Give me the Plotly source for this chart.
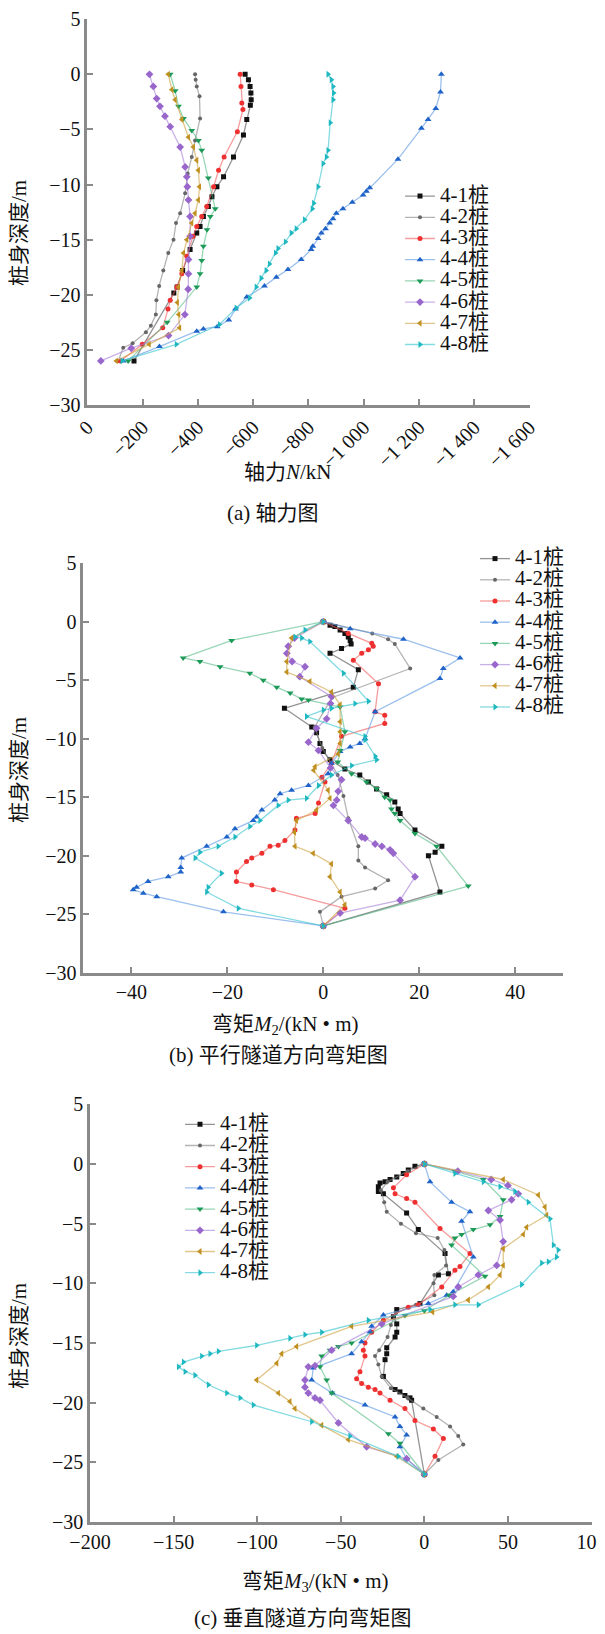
import plotly.graph_objects as go

# page pixel size and the default 8px body margin of the written html page
PAGE_W, PAGE_H = 605, 1634
OFF = 8
W, H = PAGE_W - OFF, PAGE_H - OFF

piles = ["4-1桩", "4-2桩", "4-3桩", "4-4桩", "4-5桩", "4-6桩", "4-7桩", "4-8桩"]

# ---------------- (a) axial force N (kN) vs depth (m) ----------------
a41_d = [0, -0.5, -1.1, -1.7, -2.3, -2.8, -4.1, -5.5, -7.5, -9.3, -10.2, -11.1, -12.0, -12.9, -13.8, -14.4, -15.9, -17.8, -19.3, -19.85, -26.0]
a41_n = [-571, -583, -589, -592, -593, -590, -577, -565, -529, -493, -469, -451, -438, -420, -408, -396, -372, -345, -325, -313, -169]
a42_d = [0, -0.5, -1.1, -2.0, -4.0, -6.0, -7.5, -9.0, -10.8, -12.6, -13.5, -15.0, -16.2, -17.8, -19.2, -20.5, -21.8, -22.8, -23.4, -24.4, -24.8, -26.0]
a42_n = [-390, -392, -396, -406, -408, -390, -378, -363, -354, -336, -321, -312, -293, -275, -260, -250, -248, -230, -212, -164, -130, -112]
a43_d = [0, -1.1, -2.6, -3.2, -5.2, -7.5, -8.7, -10.2, -12.0, -12.9, -13.8, -14.7, -16.5, -18.1, -19.3, -20.5, -21.3, -23.0, -24.5, -26.0]
a43_n = [-553, -556, -559, -563, -543, -495, -475, -457, -432, -414, -396, -382, -360, -342, -324, -300, -292, -273, -199, -120]
a44_d = [0, -1.6, -3.1, -4.1, -4.9, -7.7, -10.3, -10.6, -10.95, -11.6, -12.2, -12.6, -13.1, -13.5, -14.0, -14.4, -14.9, -15.6, -15.9, -16.8, -17.7, -18.4, -19.2, -20.2, -21.3, -22.3, -22.9, -23.1, -23.3, -24.7, -26.0]
a44_n = [-1281, -1278, -1261, -1233, -1209, -1124, -1022, -1010, -998, -959, -925, -901, -889, -877, -862, -847, -835, -816, -810, -774, -726, -684, -641, -577, -536, -512, -470, -420, -396, -261, -130]
a45_d = [0, -1.5, -2.9, -4.0, -5.1, -6.0, -6.9, -9.4, -12.2, -12.9, -14.1, -15.6, -16.9, -18.1, -19.3, -22.5, -26.0]
a45_n = [-300, -318, -330, -348, -378, -402, -414, -438, -463, -445, -433, -420, -414, -408, -396, -289, -148]
a46_d = [0, -1.1, -2.2, -2.9, -3.8, -4.75, -6.6, -8.4, -9.3, -10.2, -11.4, -12.9, -14.7, -16.8, -18.1, -19.5, -21.8, -23.7, -24.85, -26.0]
a46_n = [-225, -239, -251, -263, -281, -300, -336, -354, -360, -362, -366, -372, -372, -366, -366, -365, -353, -294, -159, -49]
a47_d = [0, -1.4, -2.3, -4.1, -5.7, -6.6, -7.8, -8.7, -10.2, -11.4, -12.6, -13.5, -15.0, -16.2, -17.8, -19.3, -20.7, -21.8, -23.0, -24.5, -26.0]
a47_n = [-293, -306, -318, -342, -366, -384, -396, -402, -406, -402, -390, -378, -360, -348, -342, -330, -326, -331, -334, -224, -105]
a48_d = [0, -0.5, -1.1, -1.7, -2.3, -4.4, -6.9, -7.5, -8.1, -10.2, -11.7, -12.2, -13.2, -14.0, -14.4, -15.2, -15.8, -16.2, -17.2, -17.8, -18.5, -19.3, -20.3, -21.2, -22.7, -24.5, -26.0]
a48_n = [-871, -883, -889, -891, -889, -879, -871, -865, -853, -835, -819, -814, -786, -756, -738, -717, -690, -681, -659, -647, -629, -611, -587, -539, -478, -322, -126]

# ---------------- (b) bending moment M2 (kN·m) vs depth ----------------
b41_d = [0, -0.3, -0.4, -0.7, -1.0, -1.3, -1.6, -1.9, -2.3, -2.7, -4.1, -5.6, -7.4, -9.0, -9.5, -10.4, -11.1, -11.8, -12.6, -13.1, -13.7, -14.3, -14.8, -15.4, -16.0, -16.4, -17.8, -19.2, -19.7, -20.0, -23.1, -26.0]
b41_m = [0, 1.4, 2.4, 3.5, 4.5, 5.2, 5.6, 5.8, 3.8, 1.4, 7.3, 6.25, -8.1, -2.4, -1.4, -0.7, 0, 1.4, 4.5, 7.6, 9.4, 11.1, 13.2, 14.9, 15.6, 16.0, 19.1, 24.7, 23.3, 21.9, 24.3, 0]
b42_d = [0, -1.0, -1.5, -1.9, -4.0, -6.5, -9.0, -10.8, -13.1, -14.9, -16.8, -19.2, -20.4, -21.0, -22.1, -22.8, -23.5, -24.8, -26.0]
b42_m = [0, 10.2, 13.5, 14.9, 18.1, 1.8, -1.8, -0.2, 3.0, 4.2, 5.2, 7.3, 7.3, 8.7, 13.5, 10.8, 3.8, -0.7, 0]
b43_d = [0, -1.0, -1.85, -2.1, -2.4, -2.7, -3.3, -5.3, -7.7, -8.0, -8.7, -9.8, -12.1, -13.3, -13.7, -15.5, -16.4, -16.8, -17.8, -18.7, -19.1, -19.2, -19.8, -20.2, -20.5, -21.4, -22.2, -22.5, -22.9, -24.5, -26.0]
b43_m = [0, 5.2, 10.1, 10.4, 9.4, 8.0, 6.25, 11.5, 10.8, 12.8, 12.8, 3.8, 1.7, -0.3, 0.35, -1.0, -1.7, -5.6, -5.9, -8.0, -9.4, -11.1, -12.8, -14.9, -16.0, -18.1, -18.1, -14.9, -10.4, 4.5, 0]
b44_d = [0, -0.6, -1.5, -3.1, -4.0, -4.85, -7.7, -10.0, -10.4, -10.7, -11.1, -12.1, -13.0, -14.0, -14.4, -14.7, -15.25, -16.1, -16.7, -17.0, -17.7, -18.4, -19.2, -20.2, -21.0, -21.4, -21.8, -22.2, -22.7, -22.9, -23.2, -23.5, -24.8, -26.0]
b44_m = [0, 5.6, 16.7, 28.5, 25.0, 24.3, 10.8, 8.7, 7.6, 5.6, 3.5, 1.7, 1.0, -3.1, -6.6, -9.0, -10.1, -12.8, -13.9, -14.6, -18.4, -20.1, -24.3, -29.5, -29.7, -29.7, -32.3, -36.5, -38.9, -39.6, -37.5, -34.7, -20.8, 0]
b45_d = [0, -1.6, -3.1, -3.4, -3.85, -4.4, -5.0, -5.6, -6.1, -6.6, -6.7, -7.3, -9.4, -11.0, -12.0, -13.0, -13.7, -14.25, -15.0, -15.25, -16.0, -16.4, -17.0, -18.1, -19.2, -22.6, -26.0]
b45_m = [0, -19.1, -29.2, -25.7, -21.5, -15.3, -12.5, -9.7, -6.9, -4.5, -3.1, 3.5, 4.5, 3.5, 3.0, 5.9, 9.0, 11.1, 12.8, 13.9, 14.2, 14.9, 16.0, 19.1, 23.6, 30.2, 0]
b46_d = [0, -1.4, -2.1, -2.7, -3.4, -3.85, -4.7, -6.4, -7.0, -8.3, -9.1, -10.3, -11.0, -12.5, -13.5, -14.5, -15.25, -15.7, -17.0, -18.4, -18.5, -19.0, -19.2, -19.5, -19.8, -21.8, -23.8, -24.9, -26.0]
b46_m = [0, -6.0, -7.3, -7.6, -6.5, -3.8, -4.9, 1.7, 1.5, 0.7, -1.4, -3.1, -1.0, 1.5, 3.8, 3.1, 2.8, 2.1, 5.2, 8.0, 8.7, 10.8, 12.2, 13.9, 14.6, 19.1, 16.0, 3.5, 0]
b47_d = [0, -1.4, -3.4, -4.3, -5.1, -6.0, -7.1, -8.55, -9.4, -10.4, -11.3, -12.4, -12.7, -14.4, -15.1, -16.1, -17.0, -18.0, -19.2, -19.8, -20.7, -21.8, -23.1, -24.2, -26.0]
b47_m = [0, -6.6, -7.6, -7.6, -2.8, 1.7, 3.5, 3.5, 3.5, 3.5, 3.1, -1.7, -2.0, 1.0, 1.4, -1.4, -5.6, -6.0, -5.9, -2.1, 1.7, 1.4, 3.5, 4.5, 0]
b48_d = [0, -0.7, -1.3, -1.4, -1.7, -4.4, -6.8, -7.0, -7.4, -7.55, -8.1, -9.8, -10.1, -11.5, -11.8, -12.3, -13.1, -14.0, -15.1, -15.25, -15.7, -17.0, -17.5, -18.4, -19.2, -19.7, -20.2, -21.5, -22.7, -23.1, -24.5, -26.0]
b48_m = [0, -3.8, -5.9, -4.5, -2.8, 4.2, 9.4, 6.6, 1.7, 0, -3.5, 8.7, 8.7, 10.8, 11.1, 5.9, 1.7, -1.0, -3.5, -7.3, -9.4, -13.2, -15.3, -18.4, -21.9, -25.7, -26.7, -21.2, -24.0, -24.3, -17.7, 0]

# ---------------- (c) bending moment M3 (kN·m) vs depth ----------------
c41_d = [0, -0.2, -0.5, -0.8, -1.1, -1.3, -1.5, -1.6, -1.9, -2.3, -2.5, -4.1, -5.5, -7.5, -9.2, -9.3, -11.7, -12.2, -12.8, -13.4, -14.1, -14.5, -15.4, -15.9, -16.4, -17.8, -18.9, -19.1, -19.4, -19.6, -19.8, -26.0]
c41_m = [0, -5.6, -9.6, -12.6, -16.5, -20.5, -23.5, -26.5, -27.5, -27.5, -24.5, -10.6, -3.6, 12.4, 14.4, 8.4, -2.6, -16.5, -18.5, -16.5, -16.5, -17.5, -22.5, -22.5, -23.5, -24.5, -17.5, -14.6, -11.6, -8.6, -7.6, 0]
c42_d = [0, -0.6, -1.5, -2.2, -3.2, -4.0, -5.0, -5.8, -6.2, -7.2, -8.5, -9.3, -10.0, -11.0, -11.8, -12.5, -13.5, -14.5, -15.6, -16.1, -16.8, -17.8, -18.8, -19.6, -20.5, -21.2, -22.0, -22.8, -23.5, -24.8, -26.0]
c42_m = [0, -10, -22, -26, -24, -22.5, -14, -5, 8, 12, 13, 6, 5.5, 6, -5, -17, -20, -22, -27, -29.5, -27.5, -25.5, -20, -10, -0.6, 7.4, 15.4, 20.3, 23.3, 8.4, 0]
c43_d = [0, -0.9, -2.0, -2.5, -2.9, -3.2, -5.4, -7.5, -8.6, -8.9, -10.3, -11.8, -12.0, -13.1, -14.1, -15.0, -15.6, -16.1, -17.4, -18.0, -18.4, -18.7, -18.9, -19.2, -19.8, -20.5, -21.5, -22.2, -23.0, -24.5, -26.0]
c43_m = [0, -10.6, -18.5, -17.5, -10.6, -5.6, 9.4, 27.3, 21.3, 18.3, 10.4, -3.6, -9.6, -24.5, -31.5, -35.5, -36.5, -35.5, -38.5, -40.5, -37.5, -33.5, -29.5, -26.5, -20.5, -11.6, -5.6, 5.4, 11.4, 6.4, 0]
c44_d = [0, -1.5, -3.2, -4.0, -4.8, -7.8, -10.7, -11.0, -11.7, -12.65, -13.6, -14.05, -14.9, -15.9, -17.1, -18.1, -19.2, -20.2, -21.2, -22.0, -22.7, -23.7, -24.7, -26.0]
c44_m = [0, 3.4, 16.3, 27.3, 22.3, 29.3, 17.3, 13.4, 2.4, -24.5, -31.5, -32.5, -37.5, -43.5, -66.4, -67.4, -55.0, -35.5, -17.5, -14.6, -10.6, -14.6, -10.6, 0]
c45_d = [0, -0.6, -1.3, -3.0, -4.4, -5.1, -5.5, -5.9, -6.2, -6.8, -9.4, -11.0, -12.3, -12.7, -15.0, -15.3, -15.6, -16.1, -17.0, -18.1, -19.2, -22.6, -23.4, -26.0]
c45_m = [0, 18.3, 35.3, 47.2, 45.3, 39.3, 29.3, 22.3, 18.3, 16.3, 36.3, 15.0, 0.0, -11.6, -43.5, -51.4, -56.4, -61.4, -62.4, -58.4, -55.4, -21.5, -14.6, 0]
c46_d = [0, -0.6, -1.3, -1.8, -2.5, -3.0, -3.9, -4.7, -6.5, -8.5, -9.3, -10.3, -11.1, -13.4, -15.6, -16.9, -17.0, -18.1, -18.7, -19.2, -19.6, -19.8, -21.7, -23.7, -24.7, -26.0]
c46_m = [0, 20, 40, 50, 56.2, 52.2, 38.3, 45.3, 47.2, 43.3, 32.3, 20.3, 17.3, -25.5, -55.4, -65.4, -69.4, -71.4, -71.4, -69.4, -65.4, -62.4, -51.4, -34.5, -10.6, 0]
c47_d = [0, -1.3, -2.6, -3.6, -4.3, -5.3, -5.9, -7.1, -8.5, -9.3, -10.3, -11.4, -12.4, -13.6, -15.3, -15.9, -16.7, -18.1, -19.2, -19.9, -20.5, -21.9, -23.1, -24.5, -26.0]
c47_m = [0, 47.2, 68.2, 72.2, 73.2, 61.2, 59.2, 47.2, 47.2, 45.3, 38.3, 26.3, 5.0, -43.5, -76.4, -85.3, -88.3, -100.3, -87.3, -80.4, -77.4, -61.4, -45.5, -16.5, 0]
c48_d = [0, -0.8, -1.5, -1.9, -2.3, -3.2, -4.6, -6.8, -7.2, -7.8, -8.2, -8.3, -10.1, -11.8, -11.8, -12.2, -13.1, -14.1, -14.3, -14.6, -15.2, -15.7, -15.9, -16.1, -16.6, -17.0, -17.4, -17.7, -18.5, -19.2, -19.6, -20.2, -21.6, -22.8, -24.5, -26.0]
c48_m = [0, 18.3, 35.3, 45.3, 54.2, 62.2, 75.2, 77.2, 80.1, 79.1, 74.2, 70.2, 58.2, 32.3, 18.3, 3.4, -33.5, -61.4, -71.4, -80.4, -100.3, -123.2, -128.2, -133.2, -144.1, -147.1, -143.1, -137.2, -129.2, -118.2, -110.2, -102.3, -67.4, -44.5, -15.6, 0]

# tick labels
y_ticks = [5, 0, -5, -10, -15, -20, -25, -30]
y_ticktext = ["5", "0", "−5", "−10", "−15", "−20", "−25", "−30"]
a_xticks = [0, -200, -400, -600, -800, -1000, -1200, -1400, -1600]
a_xticktext = ["0", "−200", "−400", "−600", "−800", "−1 000", "−1 200", "−1 400", "−1 600"]
b_xticks = [-40, -20, 0, 20, 40]
b_xticktext = ["−40", "−20", "0", "20", "40"]
c_xticks = [-200, -150, -100, -50, 0, 50, 100]
c_xticktext = ["−200", "−150", "−100", "−50", "0", "50", "100"]

panel_a = [(a41_n, a41_d), (a42_n, a42_d), (a43_n, a43_d), (a44_n, a44_d),
           (a45_n, a45_d), (a46_n, a46_d), (a47_n, a47_d), (a48_n, a48_d)]
panel_b = [(b41_m, b41_d), (b42_m, b42_d), (b43_m, b43_d), (b44_m, b44_d),
           (b45_m, b45_d), (b46_m, b46_d), (b47_m, b47_d), (b48_m, b48_d)]
panel_c = [(c41_m, c41_d), (c42_m, c42_d), (c43_m, c43_d), (c44_m, c44_d),
           (c45_m, c45_d), (c46_m, c46_d), (c47_m, c47_d), (c48_m, c48_d)]

# styles
styles = [
    dict(mc="#111111", lc="rgba(60,60,60,0.55)", sym="square", size=5),
    dict(mc="#666666", lc="rgba(130,130,130,0.6)", sym="circle", size=4),
    dict(mc="#ee3030", lc="rgba(240,90,90,0.6)", sym="circle", size=5),
    dict(mc="#1f63c9", lc="rgba(90,150,225,0.6)", sym="triangle-up", size=6),
    dict(mc="#1e9a58", lc="rgba(70,180,120,0.55)", sym="triangle-down", size=6),
    dict(mc="#9966cc", lc="rgba(165,125,215,0.6)", sym="diamond", size=6),
    dict(mc="#c09020", lc="rgba(205,160,60,0.6)", sym="triangle-left", size=6),
    dict(mc="#1fb8c0", lc="rgba(50,195,205,0.6)", sym="triangle-right", size=6),
]

SERIF = "'Liberation Serif', 'Times New Roman', 'Noto Sans CJK SC', serif"
AXC = "#8a8a8a"

fig = go.Figure()
for panel, (xa, ya, lg) in zip([panel_a, panel_b, panel_c],
                              [("x", "y", "legend"), ("x2", "y2", "legend2"), ("x3", "y3", "legend3")]):
    for name, (xs, ys), st in zip(piles, panel, styles):
        fig.add_trace(go.Scatter(
            x=xs, y=ys, xaxis=xa, yaxis=ya, legend=lg,
            mode="lines+markers",
            name="<span style='font-size:21px'>" + name + "</span>",
            line=dict(color=st["lc"], width=1.3),
            marker=dict(color=st["mc"], symbol=st["sym"], size=st["size"], line=dict(width=0)),
        ))


def px_x(p):
    # page pixel -> paper fraction
    return (p - OFF) / W


def px_y(p):
    return 1 - (p - OFF) / H


axis_common = dict(showline=True, linecolor=AXC, linewidth=2.5, ticks="inside",
                   ticklen=6, tickwidth=2, tickcolor=AXC, showgrid=False, zeroline=False,
                   automargin=False, ticklabeloverflow="allow",
                   tickfont=dict(family=SERIF, size=20, color="#111"), mirror=False)

fig.update_layout(
    width=W, height=H, margin=dict(l=0, r=0, t=0, b=0, pad=0, autoexpand=False),
    paper_bgcolor="white", plot_bgcolor="white",
    font=dict(family=SERIF, color="#111"),
    xaxis=dict(domain=[px_x(87.3), px_x(529.5)], range=[0, -1600], anchor="y",
               tickmode="array", tickvals=a_xticks, ticktext=a_xticktext, tickangle=-45, **axis_common),
    yaxis=dict(domain=[px_y(405), px_y(19.2)], range=[-30, 5], anchor="x",
               tickmode="array", tickvals=y_ticks, ticktext=y_ticktext, **axis_common),
    xaxis2=dict(domain=[px_x(83.3), px_x(563.3)], range=[-50, 50], anchor="y2",
                tickmode="array", tickvals=b_xticks, ticktext=b_xticktext, **axis_common),
    yaxis2=dict(domain=[px_y(972.7), px_y(563.2)], range=[-30, 5], anchor="x2",
                tickmode="array", tickvals=y_ticks, ticktext=y_ticktext, **axis_common),
    xaxis3=dict(domain=[px_x(90), px_x(591.5)], range=[-200, 100], anchor="y3",
                tickmode="array", tickvals=c_xticks, ticktext=c_xticktext, **axis_common),
    yaxis3=dict(domain=[px_y(1522), px_y(1104.3)], range=[-30, 5], anchor="x3",
                tickmode="array", tickvals=y_ticks, ticktext=y_ticktext, **axis_common),
)

leg_common = dict(xanchor="left", yanchor="top", bgcolor="rgba(255,255,255,0)",
                  font=dict(family=SERIF, size=14, color="#111"), itemwidth=30,
                  tracegroupgap=0, borderwidth=0)
fig.update_layout(
    legend=dict(x=px_x(400), y=px_y(180.5), **leg_common),
    legend2=dict(x=px_x(475), y=px_y(543), **leg_common),
    legend3=dict(x=px_x(180), y=px_y(1108.7), **leg_common),
)

TF = dict(family=SERIF, size=21, color="#111")
ann = [
    dict(text="轴力<i>N</i>/kN", x=288, y=472),
    dict(text="(a) 轴力图", x=273, y=513),
    dict(text="弯矩<i>M</i><sub>2</sub>/(kN • m)", x=285, y=1025),
    dict(text="(b) 平行隧道方向弯矩图", x=278, y=1055),
    dict(text="弯矩<i>M</i><sub>3</sub>/(kN • m)", x=315, y=1582),
    dict(text="(c) 垂直隧道方向弯矩图", x=303, y=1618),
]
for a in ann:
    fig.add_annotation(text=a["text"], x=px_x(a["x"]), y=px_y(a["y"]), xref="paper", yref="paper",
                       showarrow=False, xanchor="center", yanchor="middle", font=TF)
for yc in [233, 770, 1336]:
    fig.add_annotation(text="桩身深度/m", x=px_x(19), y=px_y(yc), xref="paper", yref="paper",
                       showarrow=False, xanchor="center", yanchor="middle", textangle=-90, font=TF)

fig.write_html("out.html")
